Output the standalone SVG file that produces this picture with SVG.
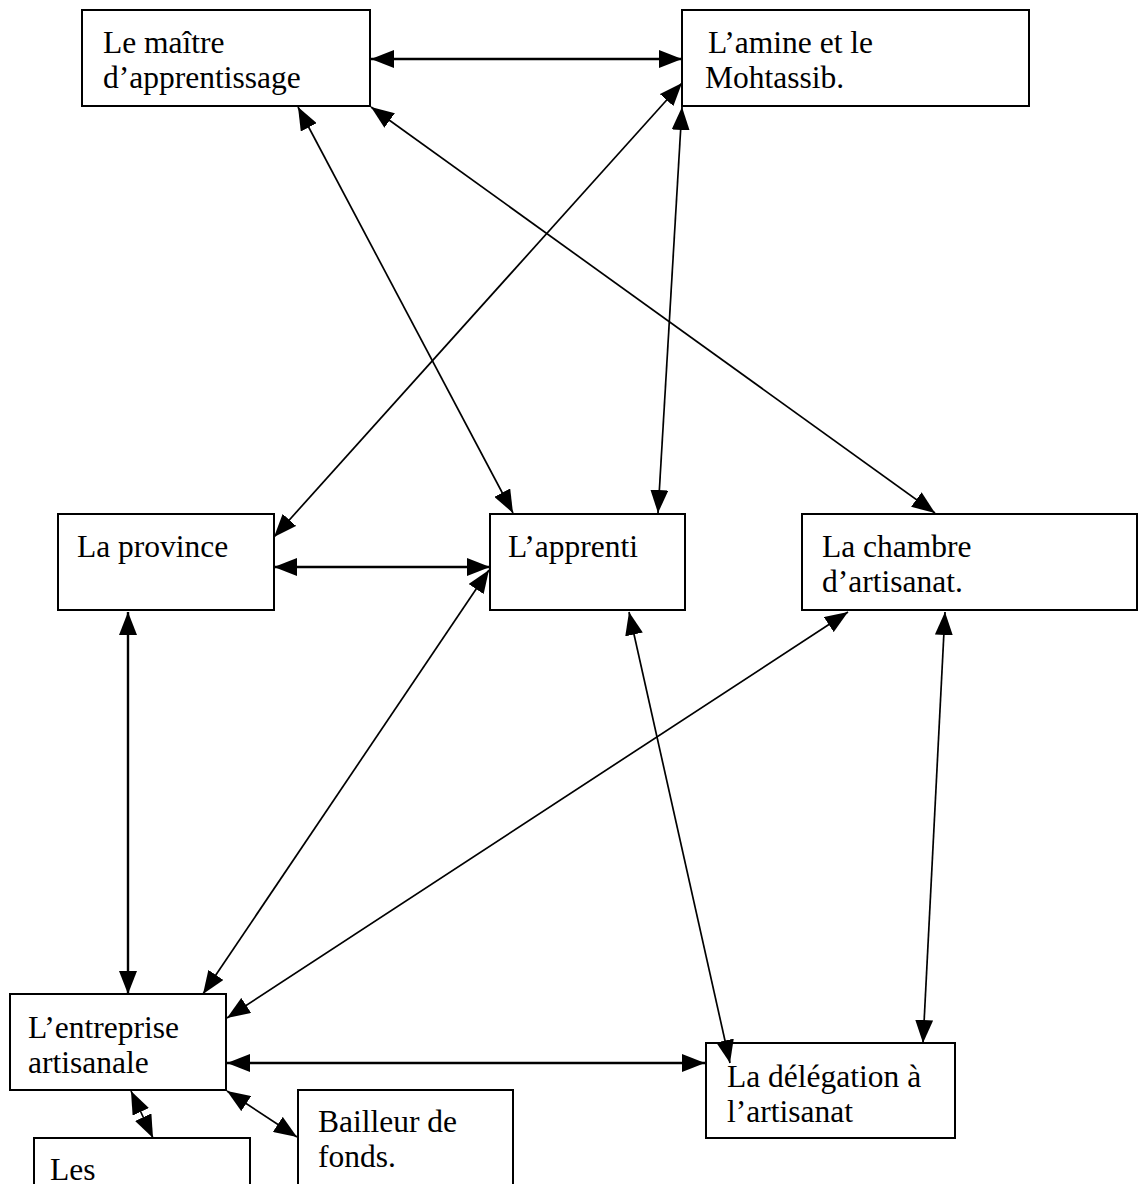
<svg xmlns="http://www.w3.org/2000/svg" width="1140" height="1184" viewBox="0 0 1140 1184">
<style>
.box{fill:#fff;stroke:#000;stroke-width:2}
.t{font-family:"Liberation Serif","Times New Roman",serif;font-size:31.5px;fill:#000}
.c{stroke:#000;stroke-width:1.7;fill:none;marker-start:url(#ah);marker-end:url(#ah)}
.h{stroke-width:2.4}
</style>
<defs>
<marker id="ah" markerUnits="userSpaceOnUse" markerWidth="24" markerHeight="18" refX="23" refY="9" orient="auto-start-reverse" viewBox="0 0 24 18">
<path d="M0,0 L23,9 L0,18 z" fill="#000"/>
</marker>
</defs>
<rect width="1140" height="1184" fill="#fff"/>
<g id="n-maitre"><rect class="box" x="82" y="10" width="288" height="96"/><text class="t" x="103" y="53">Le maître</text><text class="t" x="103" y="88">d’apprentissage</text></g>
<g id="n-amine"><rect class="box" x="682" y="10" width="347" height="96"/><text class="t" x="708" y="53">L’amine et le</text><text class="t" x="705" y="88">Mohtassib.</text></g>
<g id="n-province"><rect class="box" x="58" y="514" width="216" height="96"/><text class="t" x="77" y="557">La province</text></g>
<g id="n-apprenti"><rect class="box" x="490" y="514" width="195" height="96"/><text class="t" x="508" y="557">L’apprenti</text></g>
<g id="n-chambre"><rect class="box" x="802" y="514" width="335" height="96"/><text class="t" x="822" y="557">La chambre</text><text class="t" x="822" y="592">d’artisanat.</text></g>
<g id="n-entreprise"><rect class="box" x="10" y="994" width="216" height="96"/><text class="t" x="28" y="1038">L’entreprise</text><text class="t" x="28" y="1073">artisanale</text></g>
<g id="n-delegation"><rect class="box" x="706" y="1043" width="249" height="95"/><text class="t" x="727" y="1087">La délégation à</text><text class="t" x="727" y="1122">l’artisanat</text></g>
<g id="n-bailleur"><rect class="box" x="298" y="1090" width="215" height="110"/><text class="t" x="318" y="1132">Bailleur de</text><text class="t" x="318" y="1167">fonds.</text></g>
<g id="n-les"><rect class="box" x="34" y="1138" width="216" height="60"/><text class="t" x="50" y="1180">Les</text></g>
<g id="connectors">
<line class="c h" x1="371" y1="59" x2="682" y2="59"/>
<line class="c" x1="298" y1="107" x2="513" y2="513"/>
<line class="c" x1="371" y1="107" x2="935" y2="513"/>
<line class="c" x1="682" y1="83" x2="274" y2="537"/>
<line class="c" x1="682" y1="107" x2="658" y2="513"/>
<line class="c h" x1="274" y1="567" x2="490" y2="567"/>
<line class="c h" x1="128" y1="612" x2="128" y2="994"/>
<line class="c" x1="489" y1="570" x2="203" y2="994"/>
<line class="c" x1="629" y1="612" x2="730" y2="1063"/>
<line class="c" x1="848" y1="612" x2="227" y2="1018"/>
<line class="c" x1="945" y1="612" x2="923" y2="1043"/>
<line class="c h" x1="227" y1="1063" x2="705" y2="1063"/>
<line class="c" x1="131" y1="1091" x2="153" y2="1138"/>
<line class="c" x1="227" y1="1091" x2="297" y2="1137"/>
</g>
</svg>
